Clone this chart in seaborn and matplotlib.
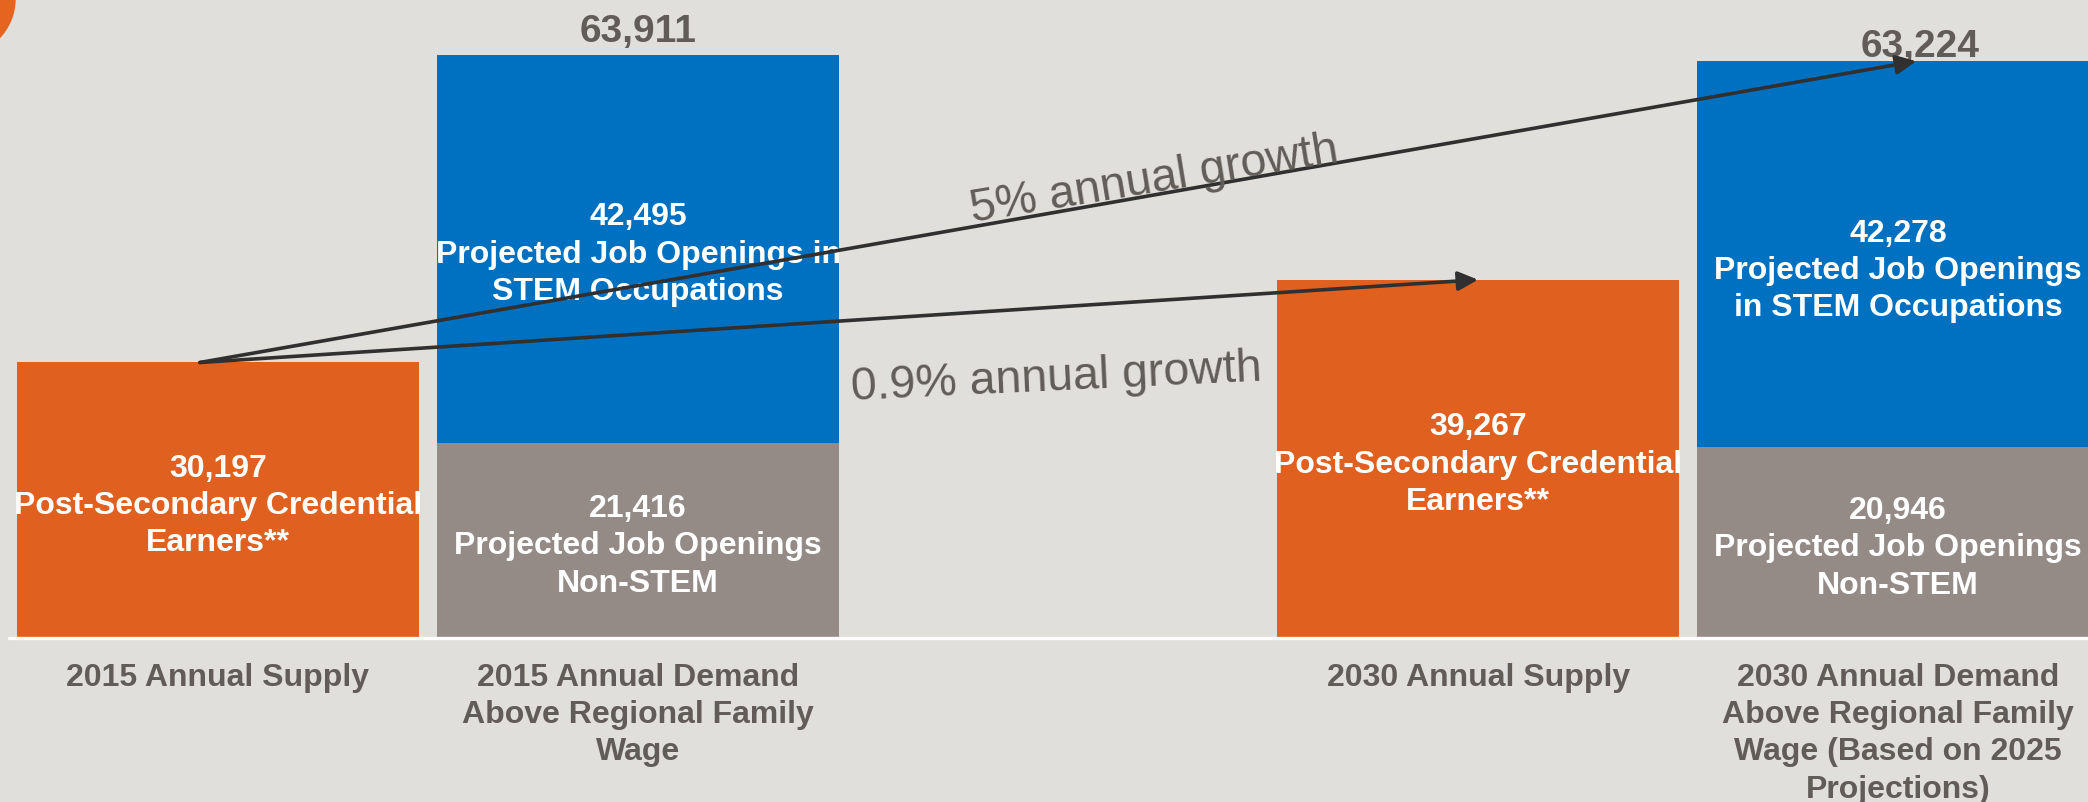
import numpy as np
import pandas as pd
import matplotlib
matplotlib.use("Agg")
import matplotlib.pyplot as plt
import seaborn as sns
from matplotlib.patches import Circle

# ---------------- data ----------------
categories = ["2015 Annual Supply",
              "2015 Annual Demand\nAbove Regional Family\nWage",
              " ",
              "2030 Annual Supply",
              "2030 Annual Demand\nAbove Regional Family\nWage (Based on 2025\nProjections)"]
supply = [30197, 39267]            # 2015, 2030
stem_demand = [42495, 42278]       # 2015, 2030
nonstem_demand = [21416, 20946]    # 2015, 2030
growth_labels = ["5% annual growth", "0.9% annual growth"]
supply_label = "Post-Secondary Credential\nEarners**"
stem_labels = ["Projected Job Openings in\nSTEM Occupations",
               "Projected Job Openings\nin STEM Occupations"]
nonstem_label = "Projected Job Openings\nNon-STEM"

ORANGE = "#E06020"
BLUE = "#0070C0"
GREY = "#948B86"
BG = "#E0DFDB"
TXT = "#615C58"
ARROW = "#303030"

total_demand = [s + n for s, n in zip(stem_demand, nonstem_demand)]

sns.set_theme(style="white")
plt.rcParams["font.family"] = ["Liberation Sans", "DejaVu Sans"]

W, H = 2088, 803
fig = plt.figure(figsize=(W / 100, H / 100), dpi=100, facecolor=BG)
ax = fig.add_axes([0, 164 / H, 1, 639 / H])
ax.set_facecolor(BG)

top_df = pd.DataFrame({
    "cat": [categories[0], categories[1], categories[3], categories[4]],
    "value": [supply[0], total_demand[0], supply[1], total_demand[1]],
    "kind": ["supply", "stem", "supply", "stem"],
})
bottom_df = pd.DataFrame({
    "cat": [categories[1], categories[4]],
    "value": nonstem_demand,
    "kind": ["nonstem", "nonstem"],
})
palette = {"supply": ORANGE, "stem": BLUE, "nonstem": GREY}

bw = 0.957
sns.barplot(data=top_df, x="cat", y="value", hue="kind", order=categories,
            palette=palette, dodge=False, width=bw, saturation=1,
            linewidth=0, legend=False, ax=ax, errorbar=None)
sns.barplot(data=bottom_df, x="cat", y="value", hue="kind", order=categories,
            palette=palette, dodge=False, width=bw, saturation=1,
            linewidth=0, legend=False, ax=ax, errorbar=None)

ax.set_xlim(-0.519, 4.452)
ax.set_ylim(0, 70035)
for s in ax.spines.values():
    s.set_visible(False)
ax.set_yticks([])
ax.set_xlabel("")
ax.set_ylabel("")

pos = [0, 1, 3, 4]
ax.set_xticks(pos)
ax.set_xticklabels([categories[i] for i in pos], fontsize=23, fontweight="bold",
                   color=TXT)
for lab in ax.get_xticklabels():
    lab.set_linespacing(1.32)
ax.tick_params(axis="x", length=0, pad=17)

# baseline
ax.axhline(0, xmin=9 / W, xmax=1, color="white", lw=2.4, zorder=5, clip_on=False)

# inner labels
inner_kw = dict(ha="center", va="center", color="white", fontsize=23,
                fontweight="bold", linespacing=1.32, zorder=6,
                textcoords="offset points")
sup_x = [0, 3]
dem_x = [1, 4]
base_off = -3.5
for i in range(2):
    ax.annotate(f"{supply[i]:,}\n{supply_label}", xy=(sup_x[i], supply[i] / 2),
                xytext=(0, base_off), **inner_kw)
    ax.annotate(f"{nonstem_demand[i]:,}\n{nonstem_label}",
                xy=(dem_x[i], nonstem_demand[i] / 2), xytext=(0, base_off), **inner_kw)
stem_offsets = [0, -8]
for i in range(2):
    ax.annotate(f"{stem_demand[i]:,}\n{stem_labels[i]}",
                xy=(dem_x[i], nonstem_demand[i] + stem_demand[i] / 2),
                xytext=(0, base_off + stem_offsets[i]), **inner_kw)

# totals above demand bars
ax.annotate(f"{total_demand[0]:,}", xy=(dem_x[0], total_demand[0]), xytext=(0, 10),
            textcoords="offset points", ha="center", va="baseline", fontsize=28,
            fontweight="bold", color=TXT)
ax.annotate(f"{total_demand[1]:,}", xy=(dem_x[1] + 0.052, total_demand[1]), xytext=(0, 3.6),
            textcoords="offset points", ha="center", va="baseline", fontsize=28,
            fontweight="bold", color=TXT, zorder=7)

# growth arrows
arrow_kw = dict(arrowstyle="-|>,head_length=0.5,head_width=0.24", color=ARROW,
                lw=2.6, mutation_scale=24, shrinkA=0, shrinkB=0)
start = (-0.043, supply[0])
ax.annotate("", xy=(dem_x[1] + 0.043, total_demand[1]), xytext=start,
            arrowprops=arrow_kw, zorder=8)
ax.annotate("", xy=(sup_x[1], supply[1]), xytext=start,
            arrowprops=arrow_kw, zorder=8)

ax.text(2.233, 48990, growth_labels[0], rotation=9.3, rotation_mode="anchor",
        ha="center", va="baseline", fontsize=33.5, color=TXT, zorder=9)
ax.text(1.998, 27290, growth_labels[1], rotation=2.7, rotation_mode="anchor",
        ha="center", va="baseline", fontsize=33.5, color=TXT, zorder=9)

# partial logo circle in the corner
fig.patches.append(Circle((-0.41, 8.03), 0.56, transform=fig.dpi_scale_trans,
                          color="#E5641F", zorder=10))

fig.savefig("out.png", dpi=100, facecolor=BG)
